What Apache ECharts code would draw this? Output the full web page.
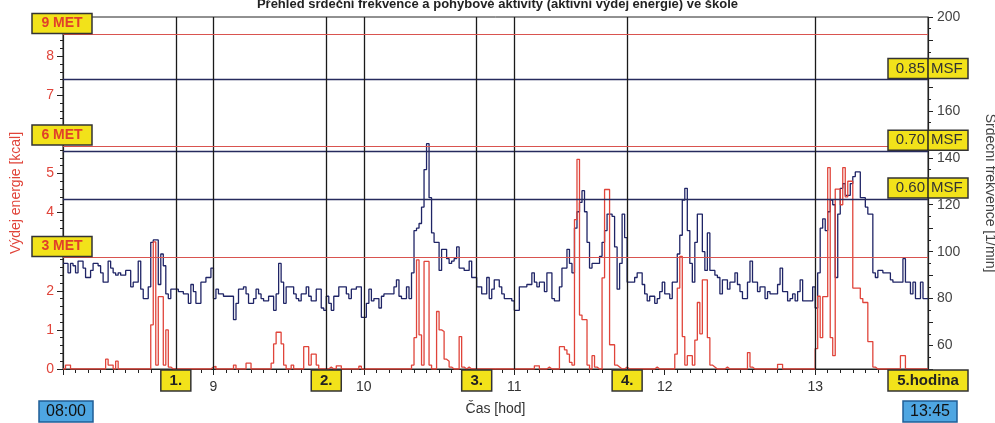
<!DOCTYPE html>
<html>
<head>
<meta charset="utf-8">
<script src="https://cdn.jsdelivr.net/npm/echarts@6/dist/echarts.min.js"></script>
<style>
  html, body { margin: 0; padding: 0; background: #ffffff; }
  #main { width: 995px; height: 423px; }
</style>
</head>
<body>
<div id="main"></div>
<script>
// Heart rate [1/min], one value per minute from 08:00 (15 minutes per row)
const heartRate = [
  95,95,91,95,94,91,96,96,93,89,89,92,95,95,94,
  91,87,87,96,93,91,90,91,90,90,92,92,85,87,87,
  96,84,80,80,85,104,105,105,86,99,94,82,80,84,84,
  84,83,83,82,82,78,86,83,78,78,87,87,89,89,93,
  80,84,82,82,81,81,81,81,71,78,84,84,85,82,78,
  78,80,84,82,80,79,79,81,81,75,82,95,87,78,85,
  85,85,82,80,79,82,82,85,81,79,79,84,84,76,75,
  81,78,75,81,81,85,85,85,82,80,84,84,85,85,72,
  72,78,84,79,80,80,76,81,82,82,82,82,85,88,81,
  80,80,85,80,91,109,110,112,119,135,146,123,108,104,104,
  92,101,101,97,95,96,97,102,93,93,92,92,96,89,89,
  85,85,82,82,89,80,84,88,88,85,82,80,80,80,79,
  75,75,85,85,85,86,86,91,87,85,87,87,83,91,91,
  80,79,79,85,93,93,101,95,91,110,117,121,126,117,104,
  93,95,95,95,98,104,109,116,116,115,102,84,95,116,106,
  87,87,87,89,91,91,86,82,79,81,81,78,80,83,87,
  82,82,80,87,87,99,107,122,127,109,95,87,104,116,116,
  100,92,108,92,92,90,89,82,88,88,84,87,87,91,86,
  83,80,80,87,96,87,87,83,85,85,80,83,82,82,82,
  86,93,83,83,79,80,82,79,83,88,79,79,79,79,85,
  76,91,110,114,109,117,122,120,89,116,127,129,124,124,129,
  132,134,134,123,123,119,116,116,91,89,92,92,91,91,91,
  88,87,87,87,87,97,87,87,82,87,80,80,87,80,80
];

// Active energy expenditure [kcal], one value per minute from 08:00
const energy = [
  0,0.1,0.1,0,0,0,0,0,0,0,0,0,0,0,0,
  0,0,0.25,0.1,0.1,0,0.2,0,0,0,0,0,0,0,0,
  0,0,0,0,0,1.13,3.25,0.1,1.85,1.85,0.1,1.0,0.05,0,0,
  0,0,0,0,0,0,0,0,0,0,0,0,0,0,0.05,
  0.07,0,0,0,0,0,0,0,0.1,0,0,0,0,0.15,0.15,
  0,0,0,0,0,0,0,0,0.15,0.64,0.94,0.94,0.64,0.1,0,
  0,0.1,0,0,0,0,0.57,0.57,0.1,0.38,0.38,0.1,0,0,0,
  0,0.05,0,0,0.08,0.08,0,0,0,0,0,0,0,0.07,0,
  0,0,0,0,0,0,0,0,0,0,0,0,0,0,0,
  0,0,0,0,0.1,0.8,2.79,0.87,0.1,2.75,2.75,0.1,0,0,1.47,
  1.0,0.96,0.25,0.2,0.05,0,0,0,0.83,0.05,0,0.05,0,0,0,
  0,0,0,0,0,0,0,0,0,0,0,0,0,0,0,
  0,0,0,0,0,0,0,0,0.08,0.08,0,0,0,0.05,0,
  0,0,0,0.57,0.57,0.49,0.38,0.17,0.1,3.82,5.36,1.38,1.26,1.26,0.1,
  0,0.34,0.05,0,0,2.33,4.59,4.59,0.62,0.62,0.1,0.05,0,0,0.05,
  0,0,0,0,0,0,0,0,0,0,0,0.05,0,0,0,
  0,0,0,0,0.38,2.07,2.88,0.83,0.1,0.34,0.34,0.1,0.74,1.7,0.9,
  2.28,2.28,0.8,0.1,0.05,0,0,0,0,0.05,0,0,0,0,0,
  0,0,0,0.42,0.05,0,0,0,0,0,0,0,0,0,0,
  0.12,0.12,0,0,0,0,0,0,0,0,0,0,0,0,0,
  0.52,1.86,0.8,1.85,1.85,5.15,0.8,0.34,4.6,4.6,4.2,5.15,4.4,4.8,4.8,
  2.07,2.07,2.07,1.8,1.7,1.7,0.7,0.7,0.05,0,0,0,0,0,0,
  0,0,0,0,0.34,0.34,0,0,0,0,0,0,0,0,0
];

// Intensity thresholds in kcal (MET levels)
const metLabels = ['3 MET', '6 MET', '9 MET'];
const metKcal = [2.85, 5.7, 8.55];

// Heart-rate zones as a share of maximal heart rate
const msfLabels = ['0.60', '0.70', '0.85'];
const msfBpm = [122.4, 142.8, 173.4];

// Lesson boundaries (break start / lesson start), and the lesson labels
const boundaryTimes = ['08:45', '09:00', '09:45', '10:00', '10:45', '11:00', '11:45', '13:00'];
const lessonLabels = ['1.', '2.', '3.', '4.', '5.hodina'];
const lessonEndTimes = ['08:45', '09:45', '10:45', '11:45', '13:45'];
const dayStart = '08:00';
const dayEnd = '13:45';

const toHours = s => { const [h, m] = s.split(':').map(Number); return h + m / 60; };
const startH = toHours(dayStart);
const endH = toHours(dayEnd);

function stepData(values) {
  const pts = values.map((v, i) => [startH + i / 60, v]);
  pts.push([startH + values.length / 60, values[values.length - 1]]);
  return pts;
}

const FONT = 'Arial, "Liberation Sans", sans-serif';
const RED = '#e0443a';
const NAVY = '#1f2466';

const chart = echarts.init(document.getElementById('main'));

const option = {
  animation: false,
  backgroundColor: '#ffffff',
  title: {
    text: 'Přehled srdeční frekvence a pohybové aktivity (aktivní výdej energie) ve škole',
    left: 'center',
    top: -7,
    textStyle: { fontFamily: FONT, fontSize: 13, fontWeight: 'bold', color: '#222' }
  },
  grid: {
    left: 63, right: 67, top: 17, bottom: 54,
    containLabel: false, outerBoundsMode: 'none',
    show: true, borderColor: '#222', borderWidth: 1
  },
  xAxis: {
    type: 'value',
    min: startH, max: endH, interval: 1,
    name: 'Čas [hod]', nameLocation: 'middle', nameGap: 33,
    nameTextStyle: { fontFamily: FONT, fontSize: 14, color: '#333' },
    axisLine: { lineStyle: { color: '#222', width: 1.2 } },
    axisTick: { show: true, length: 6, lineStyle: { color: '#222' } },
    minorTick: { show: true, splitNumber: 12, length: 4, lineStyle: { color: '#222' } },
    splitLine: { show: false },
    axisLabel: {
      showMinLabel: false, showMaxLabel: false, margin: 11,
      fontFamily: FONT, fontSize: 14, color: '#333',
      formatter: v => String(Math.round(v))
    }
  },
  yAxis: [
    {
      type: 'value', min: 0, max: 9, interval: 1, position: 'left',
      name: 'Výdej energie [kcal]', nameLocation: 'middle', nameGap: 40,
      nameTextStyle: { fontFamily: FONT, fontSize: 14, color: RED },
      axisLine: { show: true, lineStyle: { color: '#222', width: 1.2 } },
      axisTick: { show: true, length: 6, lineStyle: { color: '#222' } },
      minorTick: { show: true, splitNumber: 5, length: 3, lineStyle: { color: '#222' } },
      splitLine: { show: false },
      axisLabel: {
        margin: 9, fontFamily: FONT, fontSize: 14, color: RED,
        formatter: v => (v >= 9 ? '' : String(v))
      }
    },
    {
      type: 'value', min: 50, max: 200, interval: 10, position: 'right',
      name: 'Srdeční frekvence [1/min]', nameLocation: 'middle', nameGap: 55, nameRotate: -90,
      nameTextStyle: { fontFamily: FONT, fontSize: 14, color: '#444' },
      axisLine: { show: true, lineStyle: { color: '#222', width: 1.2 } },
      axisTick: { show: true, length: 5, lineStyle: { color: '#222' } },
      minorTick: { show: true, splitNumber: 2, length: 3, lineStyle: { color: '#222' } },
      splitLine: { show: false },
      axisLabel: {
        margin: 9, fontFamily: FONT, fontSize: 14, color: '#444',
        formatter: v => (v % 20 === 0 ? String(v) : '')
      }
    }
  ],
  series: [
    {
      name: 'Srdeční frekvence',
      type: 'line', step: 'end', yAxisIndex: 1,
      data: stepData(heartRate),
      symbol: 'none',
      lineStyle: { color: NAVY, width: 1.3 },
      z: 3,
      markLine: {
        silent: true, symbol: 'none', label: { show: false },
        lineStyle: { color: '#262b5e', width: 1.3, type: 'solid' },
        data: msfBpm.map(v => ({ yAxis: v }))
          .concat(boundaryTimes.map(t => ({ xAxis: toHours(t), lineStyle: { color: '#1a1a1a', width: 1.3 } })))
      }
    },
    {
      name: 'Výdej energie',
      type: 'line', step: 'end', yAxisIndex: 0,
      data: stepData(energy),
      symbol: 'none',
      lineStyle: { color: RED, width: 1.3 },
      z: 4,
      markLine: {
        silent: true, symbol: 'none', label: { show: false },
        lineStyle: { color: '#d9534f', width: 1.2, type: 'solid' },
        data: metKcal.map(v => ({ yAxis: v }))
      }
    }
  ]
};

chart.setOption(option);

// Label boxes placed from the axis scales
const xPix = h => chart.convertToPixel({ xAxisIndex: 0 }, h);
const yKcal = v => chart.convertToPixel({ yAxisIndex: 0 }, v);
const yBpm = v => chart.convertToPixel({ yAxisIndex: 1 }, v);
const x0 = xPix(startH);
const x1 = xPix(endH);
const yBase = yKcal(0);

const YELLOW = '#f2e21a';
const BOX_EDGE = '#333333';
const els = [];

function box(x, y, w, h, fill, stroke) {
  els.push({ type: 'rect', z: 100, shape: { x: x, y: y, width: w, height: h },
    style: { fill: fill, stroke: stroke, lineWidth: 1.5 } });
}
function label(text, x, y, color, font, align) {
  els.push({ type: 'text', z: 101, x: x, y: y,
    style: { text: text, fill: color, font: font, align: align || 'center', verticalAlign: 'middle' } });
}

metKcal.forEach((v, i) => {
  const y = yKcal(v);
  box(x0 - 31, y - 21, 60, 20, YELLOW, BOX_EDGE);
  label(metLabels[i], x0 - 1, y - 11, '#e0402a', 'bold 14px ' + FONT);
});

msfBpm.forEach((v, i) => {
  const y = yBpm(v);
  box(x1 - 40, y - 21, 80, 20, YELLOW, BOX_EDGE);
  els.push({ type: 'line', z: 101, shape: { x1: x1, y1: y - 21, x2: x1, y2: y - 1 },
    style: { stroke: '#222', lineWidth: 1.5 } });
  label(msfLabels[i], x1 - 3, y - 11, '#333', '15px ' + FONT, 'right');
  label('MSF', x1 + 3, y - 11, '#333', '15px ' + FONT, 'left');
});

lessonLabels.forEach((t, i) => {
  const cx = xPix(toHours(lessonEndTimes[i]));
  const w = t.length > 3 ? 80 : 30;
  box(cx - w / 2, yBase + 1, w, 21, YELLOW, BOX_EDGE);
  label(t, cx, yBase + 12, '#222', 'bold 15px ' + FONT);
});

[[dayStart, startH], [dayEnd, endH]].forEach(([txt, h]) => {
  const cx = xPix(h) + (h === startH ? 3 : 2);
  box(cx - 27, 401, 54, 21, '#4ea6e2', '#1f5e96');
  label(txt, cx, 412, '#111', '16px ' + FONT);
});

chart.setOption({ graphic: { elements: els } });
</script>
</body>
</html>
